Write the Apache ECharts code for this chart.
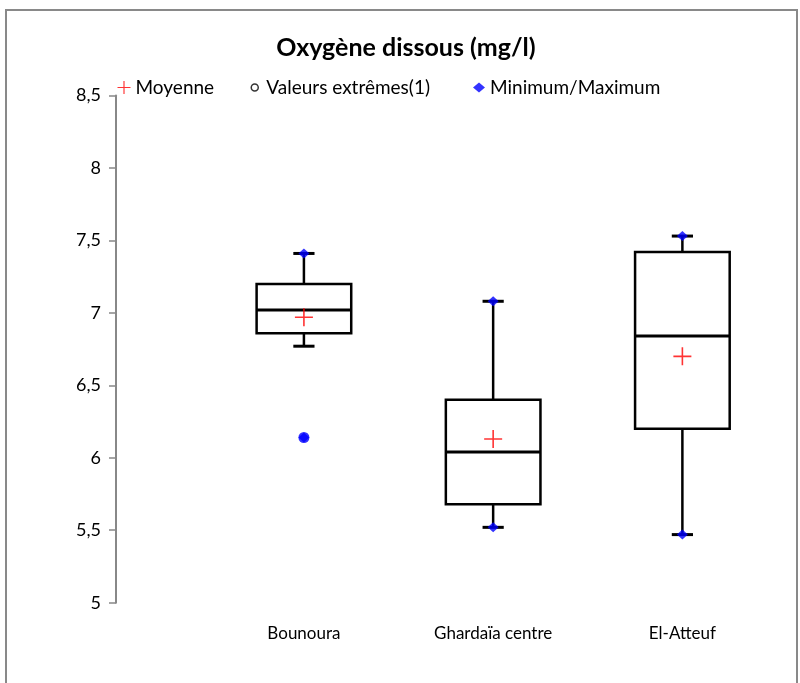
<!DOCTYPE html>
<html>
<head>
<meta charset="utf-8">
<script src="https://cdn.jsdelivr.net/npm/echarts@6/dist/echarts.min.js"></script>
<style>
  html, body { margin: 0; padding: 0; background: #fff; }
  #chart { width: 800px; height: 683px; }
</style>
</head>
<body>
<div id="chart"></div>
<script>
// Dissolved oxygen (mg/l) per sampling site
const categories = ['Bounoura', 'Ghardaïa centre', 'El-Atteuf'];
const whiskerLow = [6.77, 5.52, 5.47];
const quartile1 = [6.86, 5.68, 6.20];
const medians = [7.02, 6.04, 6.84];
const quartile3 = [7.20, 6.40, 7.42];
const whiskerHigh = [7.41, 7.08, 7.53];
const means = [6.97, 6.13, 6.70];
const minimums = [6.14, 5.52, 5.47];
const maximums = [7.41, 7.08, 7.53];
const extremes = [[0, 6.14]];
const yTicks = { min: 5, max: 8.5, step: 0.5 };

const FONT = 'Lato';
const PLUS = 'path://M0,8.2H18V9.8H0Z M8.2,0H9.8V18H8.2Z';

const boxData = categories.map((c, i) =>
  [i, whiskerLow[i], quartile1[i], medians[i], quartile3[i], whiskerHigh[i]]);
const meanData = means.map((v, i) => [i, v]);
const minMaxData = [];
categories.forEach((c, i) => {
  minMaxData.push([i, minimums[i]]);
  minMaxData.push([i, maximums[i]]);
});

const chart = echarts.init(document.getElementById('chart'), null, { renderer: 'canvas' });

function legendBlock(name, left, icon, w, h, style) {
  return {
    left: left, top: 78,
    padding: 0,
    itemWidth: w, itemHeight: h, itemGap: 0,
    selectedMode: false,
    textStyle: { fontFamily: FONT, fontSize: 19, color: '#000' },
    data: [{ name: name, icon: icon, itemStyle: style }]
  };
}

chart.setOption({
  animation: false,
  backgroundColor: '#fff',
  title: {
    text: 'Oxygène dissous (mg/l)',
    left: 406,
    textAlign: 'center',
    top: 35,
    padding: 0,
    textStyle: { fontFamily: FONT, fontSize: 25, fontWeight: 'bold', color: '#000' }
  },
  graphic: [{
    type: 'rect',
    shape: { x: 6, y: 10, width: 791, height: 700 },
    style: { fill: 'none', stroke: '#898989', lineWidth: 2 },
    silent: true
  }],
  legend: [
    legendBlock('Moyenne', 117.5, PLUS, 13, 13, { color: '#ff0000' }),
    legendBlock('Valeurs extrêmes(1)', 250.5, 'circle', 13, 7,
      { color: '#ffffff', borderColor: '#000000', borderWidth: 1.5 }),
    legendBlock('Minimum/Maximum', 473, 'diamond', 12, 10, { color: '#0000ff' })
  ],
  grid: { left: 209.3, right: 23, top: 95.5, bottom: 80.3 },
  xAxis: {
    type: 'category',
    data: categories,
    axisLine: { show: false },
    axisTick: { show: false },
    splitLine: { show: false },
    axisLabel: { fontFamily: FONT, fontSize: 17, color: '#000', margin: 22 }
  },
  yAxis: {
    type: 'value',
    min: yTicks.min, max: yTicks.max, interval: yTicks.step,
    offset: 93.3,
    splitLine: { show: false },
    axisLine: { show: true, lineStyle: { color: '#888888', width: 2 } },
    axisTick: { show: true, length: 7, lineStyle: { color: '#888888', width: 1.5 } },
    axisLabel: {
      fontFamily: FONT, fontSize: 18, color: '#000', margin: 15,
      formatter: v => String(v).replace('.', ',')
    }
  },
  series: [
    {
      name: 'boxes',
      type: 'custom',
      data: boxData,
      z: 2,
      renderItem: function (params, api) {
        const x = api.value(0);
        const lo = api.coord([x, api.value(1)]);
        const q1 = api.coord([x, api.value(2)]);
        const md = api.coord([x, api.value(3)]);
        const q3 = api.coord([x, api.value(4)]);
        const hi = api.coord([x, api.value(5)]);
        const band = api.size([1, 0])[0];
        const half = band * 0.25;
        const cap = band * 0.056;
        const cx = lo[0];
        const stroke = { stroke: '#000', lineWidth: 2.5, fill: 'none' };
        const line = (x1, y1, x2, y2, w) => ({
          type: 'line',
          shape: { x1: x1, y1: y1, x2: x2, y2: y2 },
          style: Object.assign({}, stroke, w ? { lineWidth: w } : {})
        });
        return {
          type: 'group',
          children: [
            line(cx, hi[1], cx, q3[1]),
            line(cx, q1[1], cx, lo[1]),
            line(cx - cap, hi[1], cx + cap, hi[1], 3),
            line(cx - cap, lo[1], cx + cap, lo[1], 3),
            {
              type: 'rect',
              shape: { x: cx - half, y: q3[1], width: half * 2, height: q1[1] - q3[1] },
              style: stroke
            },
            line(cx - half, md[1], cx + half, md[1], 3)
          ]
        };
      }
    },
    {
      name: 'Minimum/Maximum',
      type: 'scatter',
      data: minMaxData,
      symbol: 'diamond',
      symbolSize: [11, 10],
      itemStyle: { color: '#0000ff' },
      z: 3
    },
    {
      name: 'Moyenne',
      type: 'scatter',
      data: meanData,
      symbol: PLUS,
      symbolSize: 18,
      itemStyle: { color: '#ff0000' },
      z: 4
    },
    {
      name: 'Valeurs extrêmes(1)',
      type: 'scatter',
      data: extremes,
      symbol: 'circle',
      symbolSize: 11,
      itemStyle: { color: '#0000ff' },
      z: 5
    }
  ]
});
</script>
</body>
</html>
